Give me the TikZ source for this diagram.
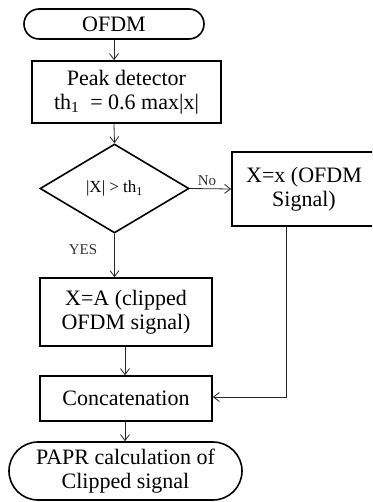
\documentclass[tikz,border=0pt]{standalone}
\usepackage{fontspec}
\setmainfont{Liberation Serif}
\usetikzlibrary{shapes.geometric,shapes.misc,arrows.meta}

\begin{document}
\begin{tikzpicture}[x=1pt,y=-1pt]
        \tikzstyle{every node}=[font=\fontsize{22}{24}\selectfont,align=center,inner sep=0pt]
        \tikzstyle{blk}=[draw,line width=1.6pt,rectangle]
        \tikzstyle{term}=[draw,line width=1.6pt,rounded rectangle]
        \tikzstyle{dec}=[draw,line width=1.6pt,diamond,font=\fontsize{17}{19}\selectfont]
        \tikzstyle{lbl}=[font=\fontsize{15}{17}\selectfont,text=black!80]
        \tikzstyle{arr}=[draw=black!85,line width=0.8pt,-{Straight Barb[length=6pt,width=9pt]}]
        \useasboundingbox (0,0) rectangle (372,502);
        \clip (0,0) rectangle (372,502);
        \node[term,minimum width=180pt,minimum height=30pt] (ofdm) at (114,24) {OFDM};
        \node[blk,minimum width=189pt,minimum height=62pt] (peak) at (126.5,92) {Peak detector\\th\textsubscript{1}\ \ = 0.6 max|x|};
        \node[dec,minimum width=149pt,minimum height=89pt] (test) at (114.5,188.5) {|X| > th\textsubscript{1}};
        \node[blk,minimum width=144pt,minimum height=74pt] (sig) at (304,189) {X=x (OFDM\\Signal)};
        \node[blk,minimum width=172pt,minimum height=68pt] (clip) at (126,312) {X=A (clipped\\OFDM signal)};
        \node[blk,minimum width=172pt,minimum height=45pt] (concat) at (126,398.5) {Concatenation};
        \node[term,minimum width=233pt,minimum height=58pt] (papr) at (125.5,471) {PAPR calculation of\\Clipped signal};
        \node[lbl] (no) at (207,181) {No};
        \node[lbl] (yes) at (83,250) {YES};
        \coordinate (bend) at (286,397);
        \draw[arr] (ofdm.south) -- (ofdm.south |- peak.north);
        \draw[arr] (ofdm.south |- peak.south) -- (test.north);
        \draw[arr] (test.east) -- (sig.west);
        \draw[arr] (test.south) -- (test.south |- clip.north);
        \draw[arr] (125,0 |- clip.south) -- (125,0 |- concat.north);
        \draw[arr] (sig.south -| bend) -- (bend) -- (concat.east |- bend);
        \draw[arr] (125,0 |- concat.south) -- (125,0 |- papr.north);
\end{tikzpicture}
\end{document}
